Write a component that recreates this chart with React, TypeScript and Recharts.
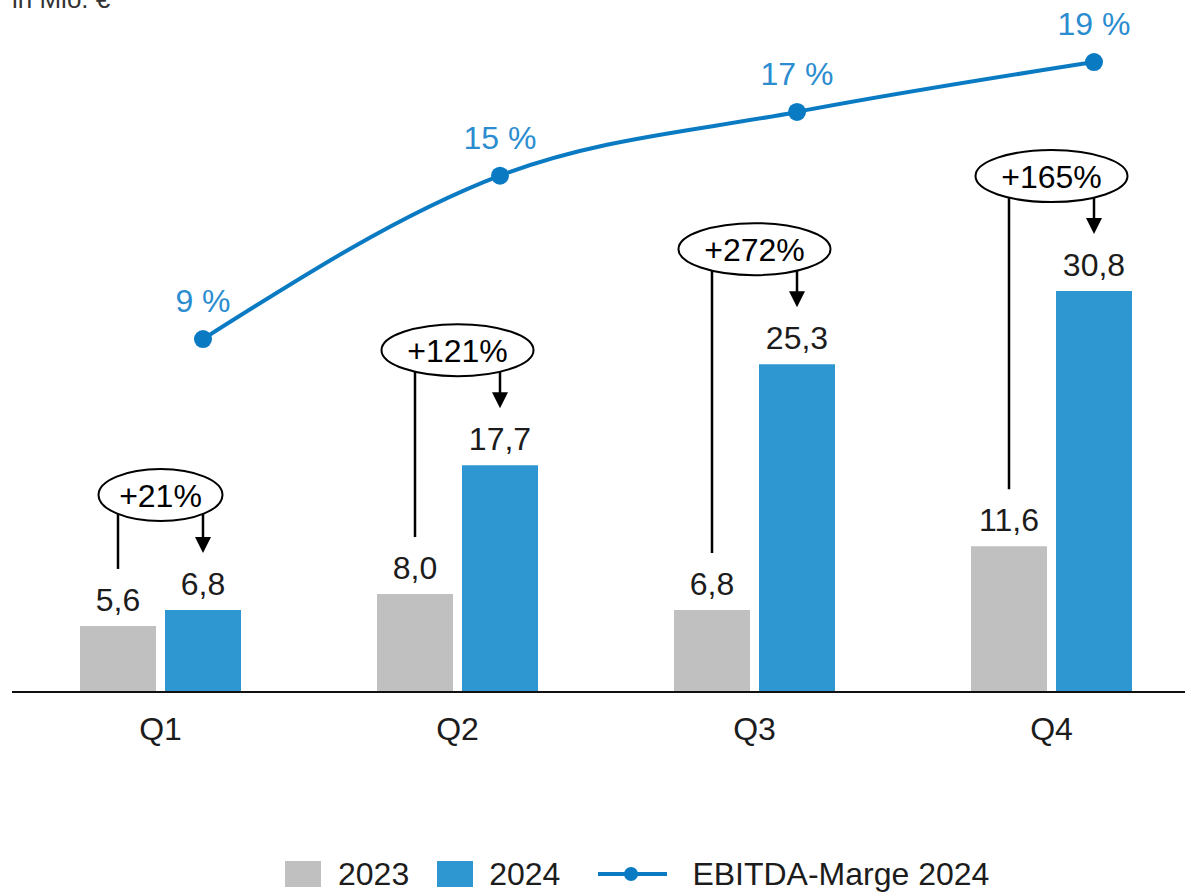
import React from "react";
import { ComposedChart, Bar, Line, XAxis, YAxis, LabelList } from "recharts";

const quarters = ["Q1", "Q2", "Q3", "Q4"];
const values2023 = [5.6, 8.0, 6.8, 11.6];
const values2024 = [6.8, 17.7, 25.3, 30.8];
const margin2024 = [9.0, 14.9, 17.2, 19.0];
const marginLabels = ["9 %", "15 %", "17 %", "19 %"];
const growthLabels = ["+21%", "+121%", "+272%", "+165%"];
const fmt = (v: number) => v.toFixed(1).replace(".", ",");

const FONT = "'Liberation Sans', Arial, sans-serif";
const GREY = "#c0c0c0";
const BLUE = "#2e96d1";
const LINE = "#0a7bc3";
const LINE_LABEL = "#2b8dd0";
const TEXT = "#1c1c1c";

const D0 = 0.63;
const D1 = 52.7;
const BAR_SIZE = 76;
const BAR_GAP = 9;
const BAND = 297;
// line points sit above the 2024 bars: shift by half of (bar + gap) in band units
const SHIFT = (BAR_SIZE + BAR_GAP) / 2 / BAND;

const data = quarters.map((q, i) => ({
  q,
  pos: i,
  v2023: values2023[i],
  v2024: values2024[i],
  m: margin2024[i],
}));

const BarValueLabel = (props: any) => {
  const { x, y, width, value } = props;
  return (
    <text
      x={x + width / 2}
      y={y - 15}
      textAnchor="middle"
      fontSize={32}
      fontFamily={FONT}
      fill={TEXT}
    >
      {fmt(value)}
    </text>
  );
};

const Annotation = (props: any) => {
  const { x, y, width, height, index } = props;
  const blue = values2024[index];
  const grey = values2023[index];
  const k = height / (blue - D0);
  const base = y + height;
  const greyTop = base - (grey - D0) * k;
  const blueCx = x + width / 2;
  const greyCx = blueCx - (width + BAR_GAP);
  const cx = (blueCx + greyCx) / 2;
  const cy = y - 115;
  const label = growthLabels[index];
  const rx = label.length * 14 + 6;
  const ry = 26;
  const off = (blueCx - greyCx) / 2;
  const edge = cy + ry * Math.sqrt(Math.max(0, 1 - (off / rx) ** 2));
  const tip = y - 57;
  const lineEnd = greyTop - 57;
  return (
    <g>
      <line x1={greyCx} y1={edge} x2={greyCx} y2={lineEnd} stroke="#000" strokeWidth={2.5} />
      <line x1={blueCx} y1={edge} x2={blueCx} y2={tip - 14} stroke="#000" strokeWidth={2.5} />
      <polygon
        points={`${blueCx - 8},${tip - 16} ${blueCx + 8},${tip - 16} ${blueCx},${tip}`}
        fill="#000"
      />
      <ellipse cx={cx} cy={cy} rx={rx} ry={ry} fill="#fff" stroke="#000" strokeWidth={2} />
      <text
        x={cx}
        y={cy}
        dy="0.36em"
        textAnchor="middle"
        fontSize={32}
        fontFamily={FONT}
        fill="#000"
      >
        {label}
      </text>
    </g>
  );
};

const LineLabel = (props: any) => {
  const { x, y, index } = props;
  return (
    <text
      x={x}
      y={y - 27}
      textAnchor="middle"
      fontSize={32}
      fontFamily={FONT}
      fill={LINE_LABEL}
    >
      {marginLabels[index]}
    </text>
  );
};

const LegendBlock = () => (
  <div
    style={{
      position: "absolute",
      top: 856,
      left: 285,
      display: "flex",
      alignItems: "center",
      fontFamily: FONT,
      fontSize: 32,
      color: TEXT,
      lineHeight: "36px",
      whiteSpace: "nowrap",
    }}
  >
    <span style={{ width: 36, height: 26, background: GREY, display: "inline-block" }} />
    <span style={{ marginLeft: 17 }}>2023</span>
    <span style={{ width: 36, height: 26, background: BLUE, display: "inline-block", marginLeft: 28 }} />
    <span style={{ marginLeft: 16 }}>2024</span>
    <svg width={69} height={20} style={{ marginLeft: 38 }}>
      <line x1={0} y1={10} x2={69} y2={10} stroke={LINE} strokeWidth={4} />
      <circle cx={33} cy={10} r={7} fill={LINE} />
    </svg>
    <span style={{ marginLeft: 25 }}>EBITDA-Marge 2024</span>
  </div>
);

export default function App() {
  return (
    <div
      style={{
        position: "absolute",
        left: 0,
        top: 0,
        width: 1185,
        height: 892,
        overflow: "hidden",
        background: "#fff",
      }}
    >
      <div
        style={{
          position: "absolute",
          left: 12,
          top: -14,
          fontFamily: FONT,
          fontSize: 26,
          lineHeight: "26px",
          color: "#333",
          whiteSpace: "nowrap",
        }}
      >
        in Mio. €
      </div>
      <ComposedChart
        width={1200}
        height={892}
        data={data}
        margin={{ top: 0, right: 0, left: 12, bottom: 140 }}
        barSize={BAR_SIZE}
        barGap={BAR_GAP}
        style={{ position: "absolute", left: 0, top: 0 }}
      >
        <XAxis
          dataKey="q"
          height={60}
          axisLine={{ stroke: "#111", strokeWidth: 2 }}
          tickLine={false}
          tickSize={0}
          tickMargin={25}
          tick={{ fontSize: 32, fontFamily: FONT, fill: TEXT }}
          interval={0}
        />
        <XAxis
          xAxisId="line"
          dataKey="pos"
          type="number"
          hide
          domain={[-0.5 - SHIFT, quarters.length - 0.5 - SHIFT]}
          allowDataOverflow
        />
        <YAxis yAxisId="left" hide domain={[D0, D1]} allowDataOverflow />
        <YAxis yAxisId="right" hide orientation="right" domain={[-3.74, 21.24]} allowDataOverflow />
        <Bar yAxisId="left" dataKey="v2023" fill={GREY} isAnimationActive={false}>
          <LabelList dataKey="v2023" content={BarValueLabel} />
        </Bar>
        <Bar yAxisId="left" dataKey="v2024" fill={BLUE} isAnimationActive={false}>
          <LabelList dataKey="v2024" content={BarValueLabel} />
          <LabelList dataKey="v2024" content={Annotation} />
        </Bar>
        <Line
          xAxisId="line"
          yAxisId="right"
          dataKey="m"
          type="monotone"
          stroke={LINE}
          strokeWidth={4}
          dot={{ r: 9, fill: LINE, stroke: "none" }}
          activeDot={false}
          isAnimationActive={false}
        >
          <LabelList dataKey="m" content={LineLabel} />
        </Line>
      </ComposedChart>
      <LegendBlock />
    </div>
  );
}
